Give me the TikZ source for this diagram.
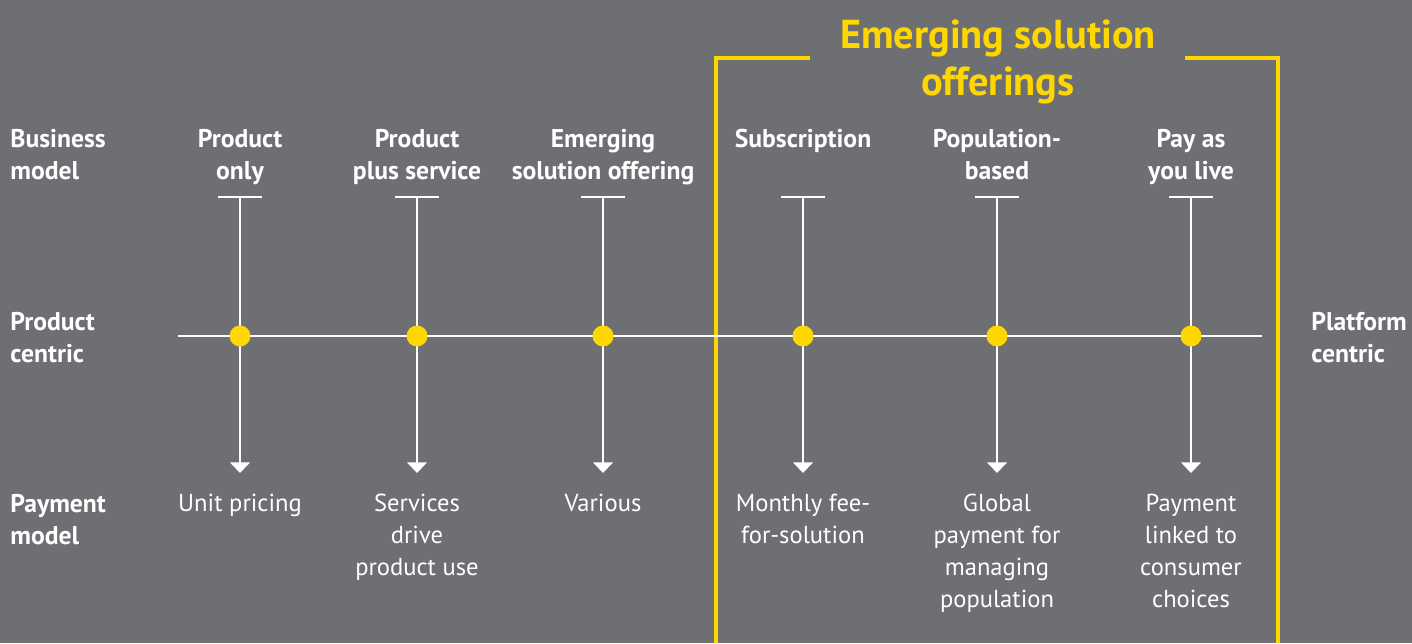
\documentclass[tikz,border=0pt]{standalone}
\usepackage{fontspec}
\setmainfont{PT Sans}
\usetikzlibrary{arrows.meta}
\definecolor{eygrey}{HTML}{6E6F72}
\definecolor{eyyellow}{HTML}{FFD700}

\begin{document}
\begin{tikzpicture}[x=0.02cm, y=-0.02cm,
    every node/.style={text=white, inner sep=0pt, align=center, anchor=north},
    hd/.style={font=\fontsize{14.6}{18.1}\selectfont\bfseries},
    txt/.style={font=\fontsize{14}{18.1}\selectfont},
    ttl/.style={font=\fontsize{23}{27.2}\selectfont\bfseries, text=eyyellow},
    axis/.style={white, line width=1.5pt},
    frame/.style={eyyellow, line width=2.4pt},
    dot/.style={circle, fill=eyyellow, minimum size=0.42cm, anchor=center}]
    \fill[eygrey] (0,0) rectangle (1412,643);
    \useasboundingbox (0,0) rectangle (1412,643);
    % row labels
    \node[hd, anchor=north west, align=left] (bmodel) at (10,129) {Business\\model};
    \node[hd, anchor=north west, align=left] (pcentric) at (10,312) {Product\\centric};
    \node[hd, anchor=north west, align=left] (pmodel) at (10,494) {Payment\\model};
    \node[hd, anchor=north west, align=left] (fcentric) at (1311,312) {Platform\\centric};
    % emerging offerings frame
    \node[ttl] (eso) at (998,19) {Emerging solution\\offerings};
    \draw[frame] (810,58) -- (716,58) -- (716,643);
    \draw[frame] (1185,58) -- (1278,58) -- (1278,643);
    % timeline
    \coordinate (left) at (178,336);
    \coordinate (right) at (1262,336);
    \draw[axis] (left) -- (right);
    \foreach \x/\bm/\pay [count=\i] in {
        240/{Product\\only}/{Unit pricing},
        417/{Product\\plus service}/{Services\\drive\\product use},
        603/{Emerging\\solution offering}/{Various},
        803/{Subscription}/{Monthly fee-\\for-solution},
        997/{Population-\\based}/{Global\\payment for\\managing\\population},
        1191/{Pay as\\you live}/{Payment\\linked to\\consumer\\choices}} {
        \node[hd] (bm\i) at (\x,129) {\bm};
        \coordinate (top\i) at (\x,197);
        \coordinate (end\i) at (\x,473);
        \draw[axis] (top\i) ++(-22,0) -- ++(44,0);
        \draw[axis, -{Triangle[width=11pt, length=6pt]}] (top\i) -- (end\i);
        \node[dot] (dot\i) at (\x,336) {};
        \node[txt] (pay\i) at (\x,494) {\pay};
    }
\end{tikzpicture}
\end{document}
